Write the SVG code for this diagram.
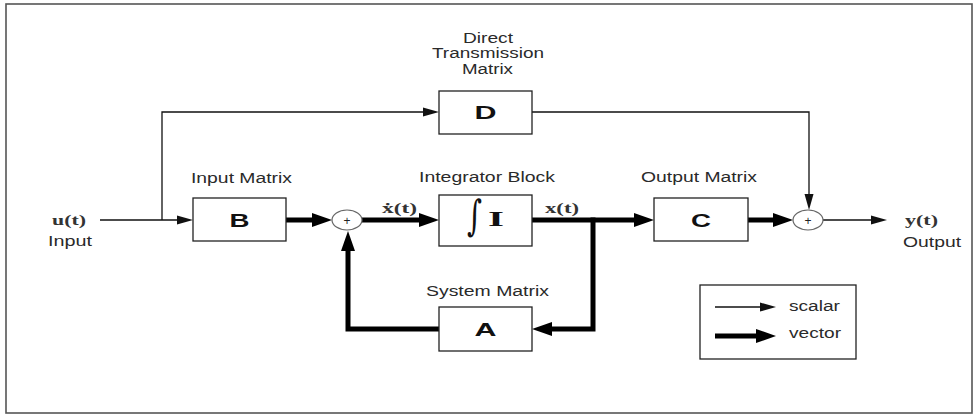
<svg xmlns="http://www.w3.org/2000/svg" width="974" height="416" viewBox="0 0 974 416">
<style>
.lbl{font-family:"Liberation Sans",Arial,sans-serif;font-size:14px;fill:#2a2a2a}
.blk{font-family:"Liberation Sans",Arial,sans-serif;font-size:19px;font-weight:bold;fill:#111;text-anchor:middle}
.sig{font-family:"Liberation Serif","Times New Roman",serif;font-size:15px;font-weight:bold;fill:#333}
.box{fill:#fff;stroke:#222;stroke-width:1.3}
.sum{fill:#fff;stroke:#666;stroke-width:1.2}
.plus{font-family:"Liberation Sans",Arial,sans-serif;font-size:12px;fill:#222;text-anchor:middle}
.thin{fill:none;stroke:#111;stroke-width:1.3}
.thick{fill:none;stroke:#000;stroke-width:5}
</style>
<defs>
<marker id="ah" markerUnits="userSpaceOnUse" markerWidth="16" markerHeight="10" refX="12" refY="5" orient="auto">
<path d="M0,0.5 L16,5 L0,9.5 z" fill="#111"/>
</marker>
<marker id="ahT" markerUnits="userSpaceOnUse" markerWidth="20" markerHeight="15" refX="8" refY="7.5" orient="auto">
<path d="M0,0.5 L20,7.5 L0,14.5 z" fill="#000"/>
</marker>
</defs>
<rect x="6" y="4" width="966" height="409" fill="#fff" stroke="#555" stroke-width="1.6"/>

<g id="connectors">
<path class="thin" d="M100,220 L189,220" marker-end="url(#ah)"/>
<path class="thin" d="M162,220 L162,112 L435,112" marker-end="url(#ah)"/>
<path class="thick" d="M286,220 L320,220" marker-end="url(#ahT)"/>
<path class="thick" d="M362,220 L427,220" marker-end="url(#ahT)"/>
<path class="thick" d="M532,220 L642,220" marker-end="url(#ahT)"/>
<path class="thick" d="M593,217.5 L593,329 L544,329" marker-end="url(#ahT)"/>
<path class="thick" d="M439,329 L348,329 L348,243" marker-end="url(#ahT)"/>
<path class="thick" d="M748,220 L781,220" marker-end="url(#ahT)"/>
<path class="thin" d="M532,112 L809,112 L809,206" marker-end="url(#ah)"/>
<path class="thin" d="M823,220 L883,220" marker-end="url(#ah)"/>
</g>

<g id="input-label">
<text class="sig" x="52" y="225" textLength="34" lengthAdjust="spacingAndGlyphs">u(t)</text>
<text class="lbl" x="48" y="246" textLength="44" lengthAdjust="spacingAndGlyphs">Input</text>
</g>

<g id="node-D">
<text class="lbl" x="463" y="43" textLength="50" lengthAdjust="spacingAndGlyphs">Direct</text>
<text class="lbl" x="432" y="58" textLength="112" lengthAdjust="spacingAndGlyphs">Transmission</text>
<text class="lbl" x="462" y="74" textLength="51" lengthAdjust="spacingAndGlyphs">Matrix</text>
<rect class="box" x="439" y="91" width="93" height="43"/>
<text class="blk" x="485.5" y="119" textLength="22" lengthAdjust="spacingAndGlyphs">D</text>
</g>

<g id="node-B">
<text class="lbl" x="191" y="183" textLength="101" lengthAdjust="spacingAndGlyphs">Input Matrix</text>
<rect class="box" x="193" y="198" width="93" height="43"/>
<text class="blk" x="239.5" y="226.5" textLength="20" lengthAdjust="spacingAndGlyphs">B</text>
</g>

<g id="sum1">
<ellipse class="sum" cx="347" cy="220" rx="15" ry="10"/>
<text class="plus" x="347" y="224.5">+</text>
</g>

<g id="node-I">
<text class="lbl" x="419" y="182" textLength="136" lengthAdjust="spacingAndGlyphs">Integrator Block</text>
<rect class="box" x="439" y="195" width="93" height="51"/>
<text x="467" y="230" font-family="'DejaVu Serif',serif" font-size="42" fill="#111" textLength="15" lengthAdjust="spacingAndGlyphs">∫</text>
<text x="488" y="226" font-family="'Liberation Serif',serif" font-size="20" font-weight="bold" fill="#111" textLength="16" lengthAdjust="spacingAndGlyphs">I</text>
</g>

<g id="signal-labels">
<text class="sig" x="382" y="213" textLength="35" lengthAdjust="spacingAndGlyphs">ẋ(t)</text>
<text class="sig" x="545" y="213" textLength="34" lengthAdjust="spacingAndGlyphs">x(t)</text>
</g>

<g id="node-C">
<text class="lbl" x="641" y="182" textLength="116" lengthAdjust="spacingAndGlyphs">Output Matrix</text>
<rect class="box" x="654" y="198" width="94" height="43"/>
<text class="blk" x="701" y="226.5" textLength="20" lengthAdjust="spacingAndGlyphs">C</text>
</g>

<g id="sum2">
<ellipse class="sum" cx="808" cy="220" rx="15" ry="10"/>
<text class="plus" x="808" y="224.5">+</text>
</g>

<g id="output-label">
<text class="sig" x="905" y="225" textLength="33" lengthAdjust="spacingAndGlyphs">y(t)</text>
<text class="lbl" x="903" y="247" textLength="58" lengthAdjust="spacingAndGlyphs">Output</text>
</g>

<g id="node-A">
<text class="lbl" x="426" y="296" textLength="123" lengthAdjust="spacingAndGlyphs">System Matrix</text>
<rect class="box" x="439" y="307" width="93" height="44"/>
<text class="blk" x="485.5" y="336" textLength="22" lengthAdjust="spacingAndGlyphs">A</text>
</g>

<g id="legend">
<rect class="box" x="700" y="285" width="156" height="74"/>
<path class="thin" d="M715,307 L772,307" marker-end="url(#ah)"/>
<path class="thick" d="M715,336 L764,336" marker-end="url(#ahT)"/>
<text class="lbl" x="789" y="311" textLength="51" lengthAdjust="spacingAndGlyphs">scalar</text>
<text class="lbl" x="789" y="338" textLength="52" lengthAdjust="spacingAndGlyphs">vector</text>
</g>
</svg>
